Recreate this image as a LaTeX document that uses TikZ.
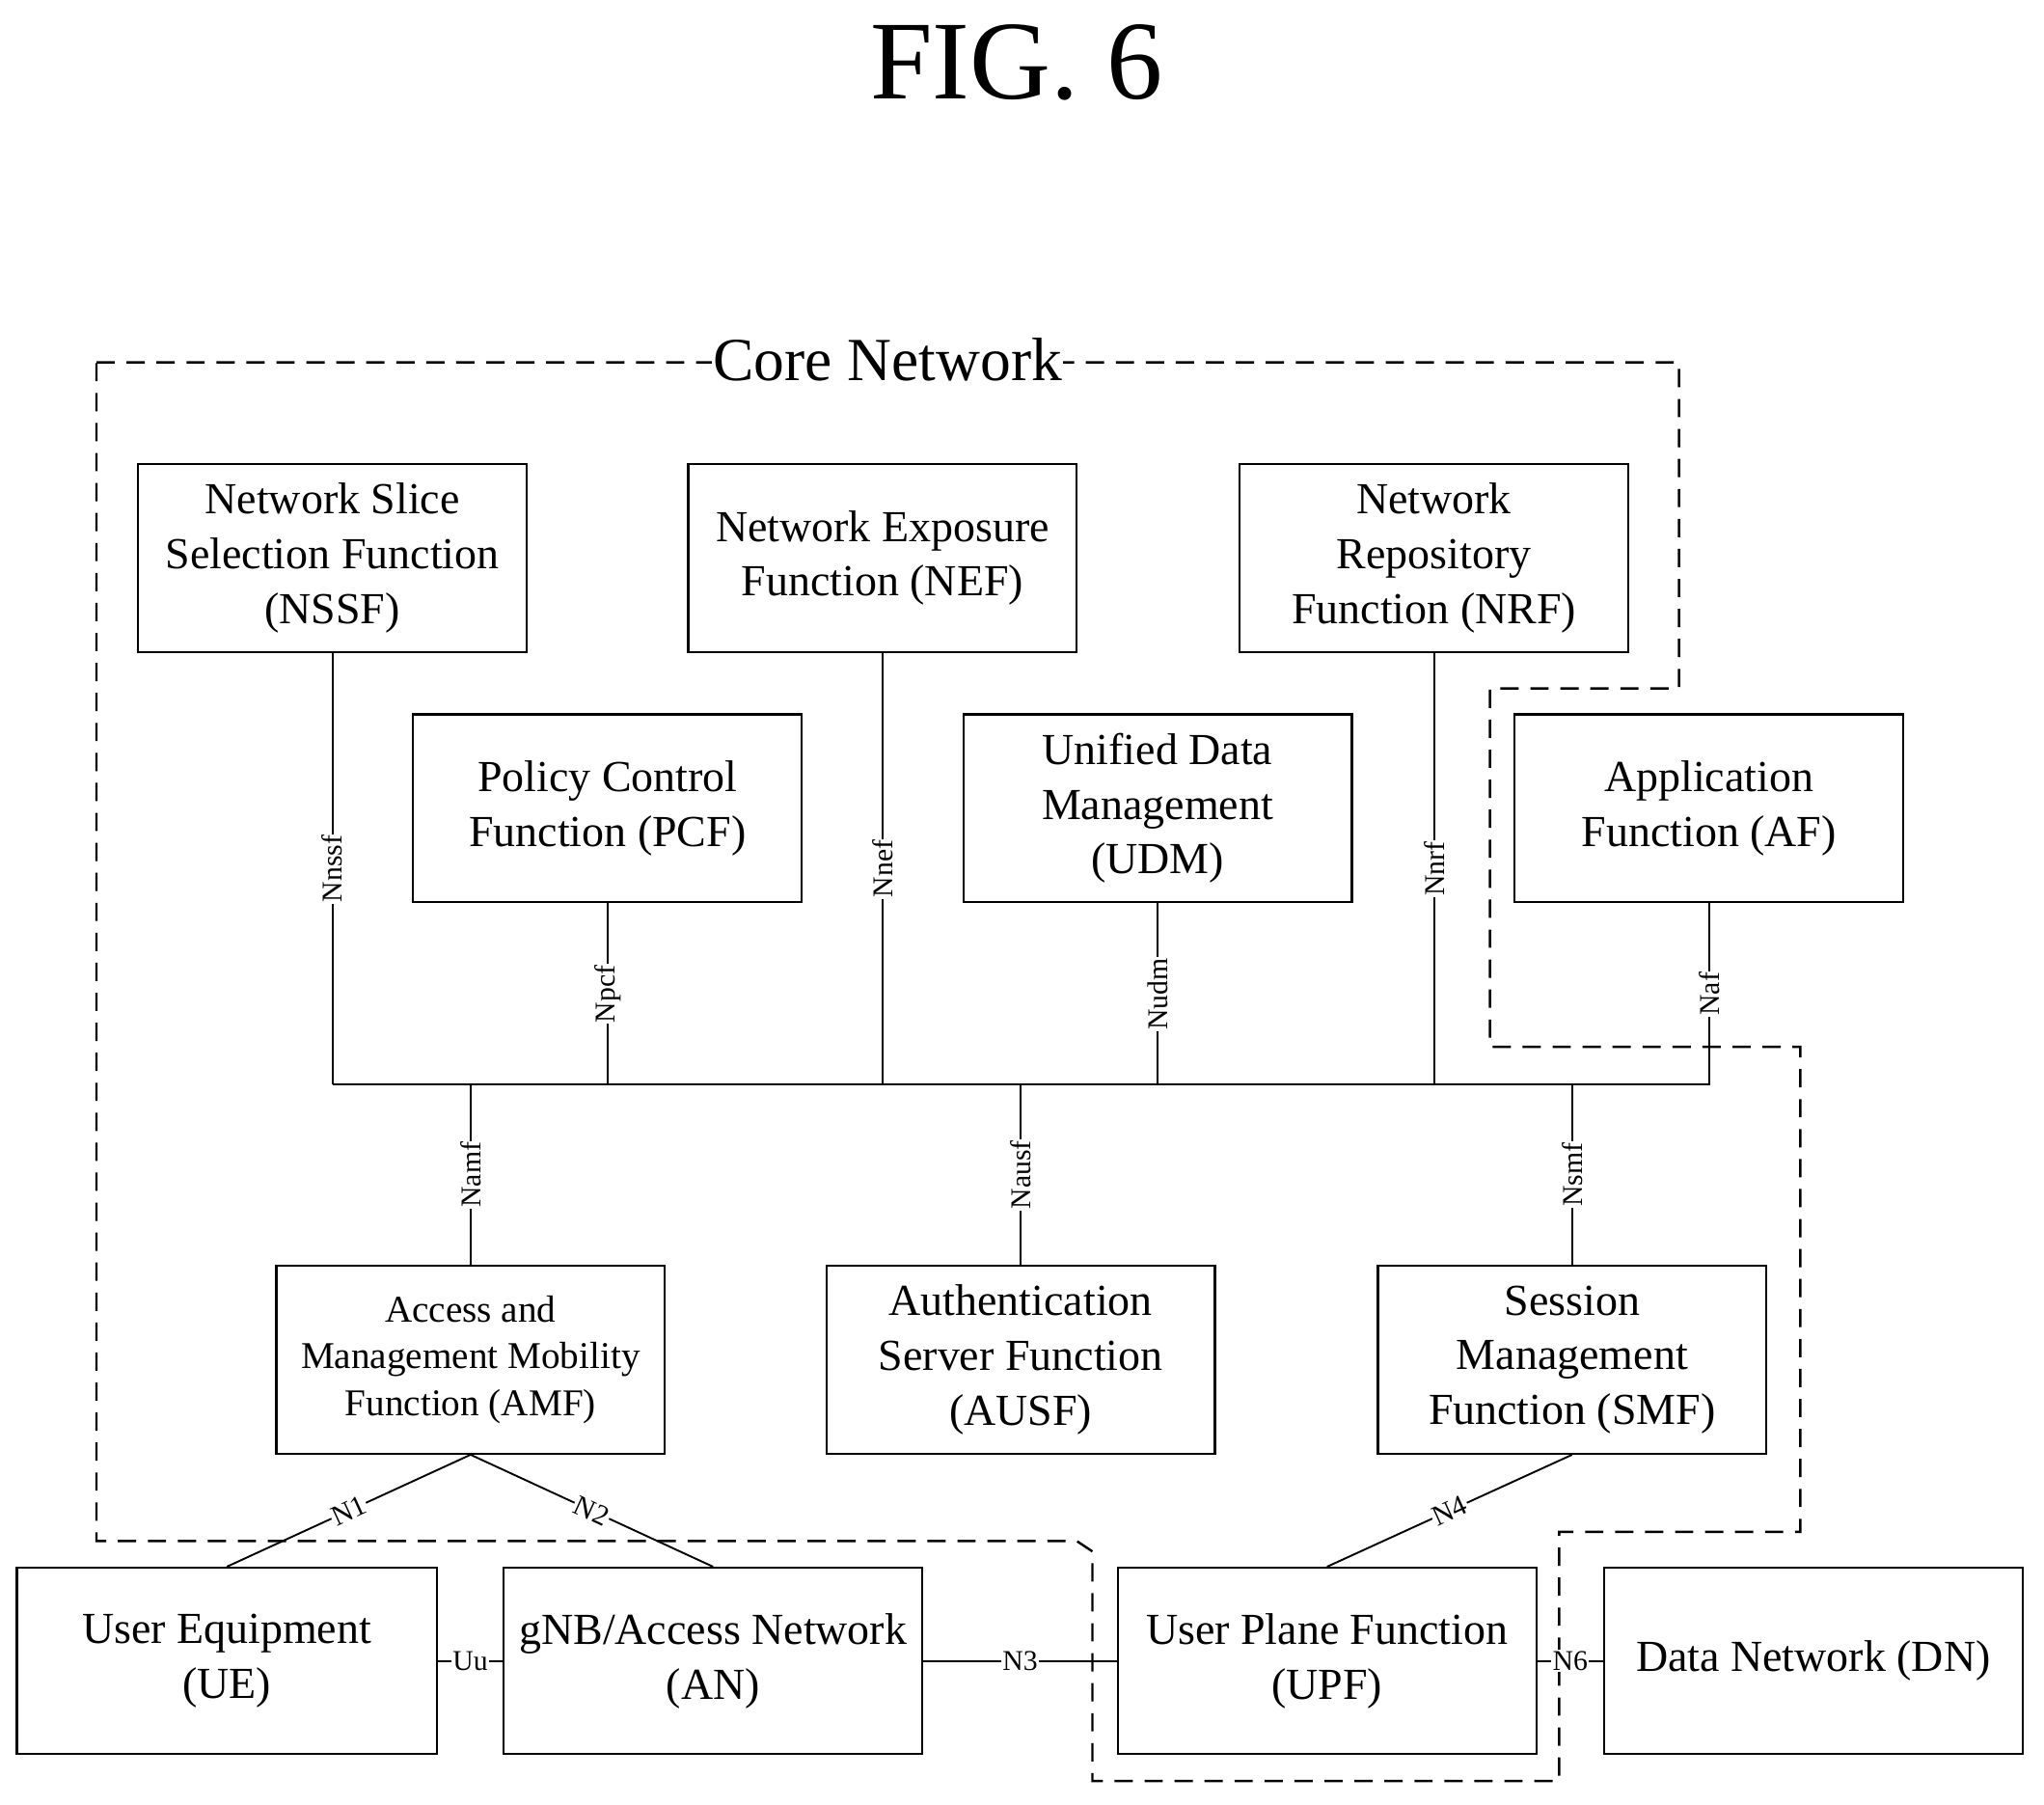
\documentclass[tikz,border=0pt]{standalone}
\usepackage{fontspec}
\setmainfont{Liberation Serif}
\begin{document}
\begin{tikzpicture}[x=1pt,y=-1pt,
 box/.style={draw,line width=1.6pt,minimum width=298pt,minimum height=144pt,align=center,font=\fontsize{34}{42}\selectfont,inner sep=0pt},
 ln/.style={line width=1.4pt},
 lab/.style={fill=white,inner sep=1pt,font=\fontsize{22}{23}\selectfont},
 vlab/.style={lab,rotate=90}]
\useasboundingbox (0,0) rectangle (1568,1384);
\node[font=\fontsize{86}{90}\selectfont] (fig) at (780,48) {FIG. 6};
\draw[line width=1.8pt,dash pattern=on 14pt off 9pt] (74,278) -- (1288,278) -- (1288,528) -- (1143,528) -- (1143,803) -- (1381,803) -- (1381,1175) -- (1196,1175) -- (1196,1366) -- (838,1366) -- (838,1190) -- (826,1182) -- (74,1182) -- cycle;
\node[fill=white,inner sep=1pt,font=\fontsize{47}{48}\selectfont] (cn) at (681,276) {Core Network};
\node[box] (nssf) at (255,428) {Network Slice\\Selection Function\\(NSSF)};
\node[box] (nef) at (677,428) {Network Exposure\\Function (NEF)};
\node[box] (nrf) at (1100,428) {Network\\Repository\\Function (NRF)};
\node[box] (pcf) at (466,620) {Policy Control\\Function (PCF)};
\node[box] (udm) at (888,620) {Unified Data\\Management\\(UDM)};
\node[box] (af) at (1311,620) {Application\\Function (AF)};
\node[box,font=\fontsize{29}{36}\selectfont] (amf) at (361,1043) {Access and\\Management Mobility\\Function (AMF)};
\node[box] (ausf) at (783,1043) {Authentication\\Server Function\\(AUSF)};
\node[box] (smf) at (1206,1043) {Session\\Management\\Function (SMF)};
\node[box,minimum width=322pt,minimum height=143pt] (ue) at (174,1274) {User Equipment\\(UE)};
\node[box,minimum width=321pt,minimum height=143pt] (an) at (547,1274) {gNB/Access Network\\(AN)};
\node[box,minimum width=321pt,minimum height=143pt] (upf) at (1018,1274) {User Plane Function\\(UPF)};
\node[box,minimum width=321pt,minimum height=143pt] (dn) at (1391,1274) {Data Network (DN)};
\coordinate (b1) at (255,832); \coordinate (b2) at (1312,832);
\draw[ln] (b1) -- (b2);
\draw[ln] (nssf.south) -- (b1) node[vlab,pos=0.5]{Nnssf};
\draw[ln] (pcf.south) -- (pcf.south |- b1) node[vlab,pos=0.5]{Npcf};
\draw[ln] (nef.south) -- (nef.south |- b1) node[vlab,pos=0.5]{Nnef};
\draw[ln] (udm.south) -- (udm.south |- b1) node[vlab,pos=0.5]{Nudm};
\draw[ln] (nrf.south) -- (nrf.south |- b1) node[vlab,pos=0.5]{Nnrf};
\draw[ln] (af.south) -- (af.south |- b1) node[vlab,pos=0.5]{Naf};
\draw[ln] (amf.north |- b1) -- (amf.north) node[vlab,pos=0.5]{Namf};
\draw[ln] (ausf.north |- b1) -- (ausf.north) node[vlab,pos=0.5]{Nausf};
\draw[ln] (smf.north |- b1) -- (smf.north) node[vlab,pos=0.5]{Nsmf};
\draw[ln] (amf.south) -- (ue.north) node[lab,sloped,pos=0.5]{N1};
\draw[ln] (amf.south) -- (an.north) node[lab,sloped,pos=0.5]{N2};
\draw[ln] (smf.south) -- (upf.north) node[lab,sloped,pos=0.5]{N4};
\draw[ln] (ue.east) -- (an.west) node[lab,pos=0.5]{Uu};
\draw[ln] (an.east) -- (upf.west) node[lab,pos=0.5]{N3};
\draw[ln] (upf.east) -- (dn.west) node[lab,pos=0.5]{N6};
\end{tikzpicture}
\end{document}
